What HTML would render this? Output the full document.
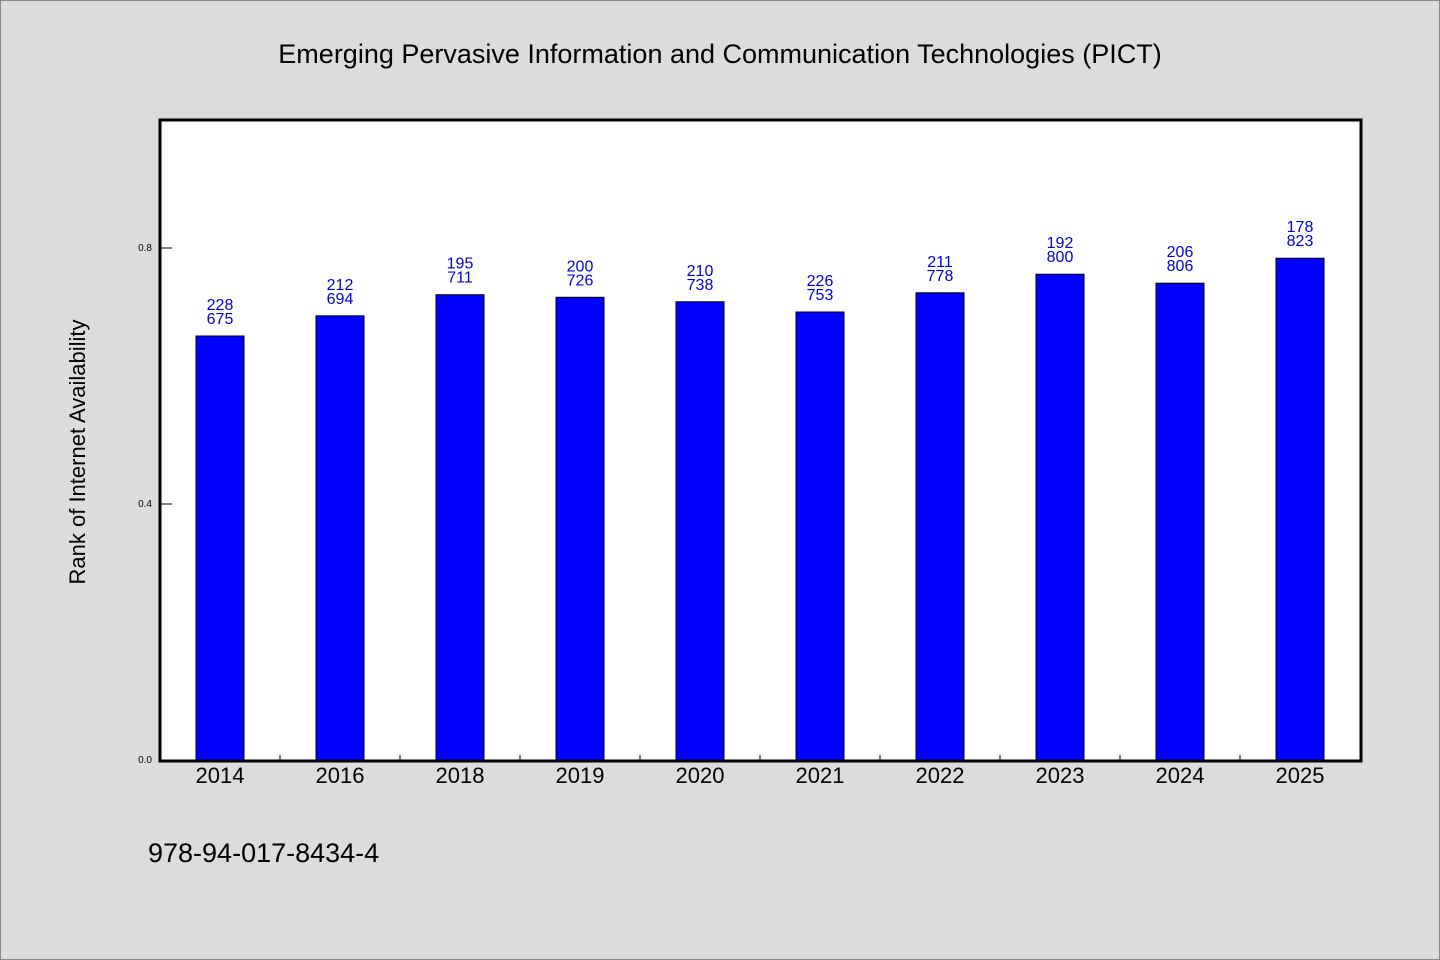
<!DOCTYPE html>
<html><head><meta charset="utf-8"><style>
html,body{margin:0;padding:0;background:#dcdcdc;}
svg{display:block;font-family:"WenQuanYi Zen Hei","Liberation Sans",sans-serif;}
</style></head><body>
<svg id="chart" width="1440" height="960" xmlns="http://www.w3.org/2000/svg">
<rect x="0.5" y="0.5" width="1439" height="959" fill="#dcdcdc" stroke="#888"/>
<text x="720" y="63" font-size="27" text-anchor="middle" fill="#000">Emerging Pervasive Information and Communication Technologies (PICT)</text>
<rect x="160" y="120" width="1201" height="641" fill="#fff" stroke="#000" stroke-width="3"/>
<text transform="translate(85,452) rotate(-90)" font-size="22" text-anchor="middle" fill="#000">Rank of Internet Availability</text>
<text x="148" y="862" font-size="27" fill="#000">978-94-017-8434-4</text>
<g id="g"></g>
</svg>
<script>
const categories=["2014","2016","2018","2019","2020","2021","2022","2023","2024","2025"];
const values=[0.6625,0.694,0.727,0.723,0.716,0.700,0.730,0.759,0.745,0.784];
const topLabels=["228","212","195","200","210","226","211","192","206","178"];
const bottomLabels=["675","694","711","726","738","753","778","800","806","823"];
const yTicks=[0.0,0.4,0.8];
const yTickLabels=["0.0","0.4","0.8"];
const NS="http://www.w3.org/2000/svg";
const g=document.getElementById('g');
const x0=160,step=120,y0=760,ppu=640;
function xc(i){return x0+step*i+60;}
function ys(v){return y0-v*ppu;}
function mk(t,a){const e=document.createElementNS(NS,t);for(const k in a)e.setAttribute(k,a[k]);g.appendChild(e);return e;}
yTicks.forEach((v,i)=>{
 const l=mk('line',{x1:161,x2:172,y1:ys(v),y2:ys(v),stroke:'#000','stroke-width':1});
 
 
 const t=mk('text',{x:152,y:ys(v)+3,'font-size':10,'text-anchor':'end',fill:'#000'});
 t.textContent=yTickLabels[i];
 
 
});
categories.forEach((c,i)=>{
 if(i>0){const tk=mk('line',{x1:x0+step*i,x2:x0+step*i,y1:755,y2:760,stroke:'#000'});
 
 }
 const h=values[i]*ppu;
 const b=mk('rect',{x:xc(i)-24,y:ys(values[i]),width:48,height:h,fill:'#0000ff',stroke:'#000','stroke-width':1});
 
 
 const t1=mk('text',{x:xc(i),y:ys(values[i])-26,'font-size':16,'text-anchor':'middle',fill:'#0000dd'});
 t1.textContent=topLabels[i];
 
 
 const t2=mk('text',{x:xc(i),y:ys(values[i])-12,'font-size':16,'text-anchor':'middle',fill:'#0000dd'});
 t2.textContent=bottomLabels[i];
 
 
 const xl=mk('text',{x:xc(i),y:783,'font-size':22,'text-anchor':'middle',fill:'#000'});
 xl.textContent=c;
 
 
});
</script>
</body></html>
